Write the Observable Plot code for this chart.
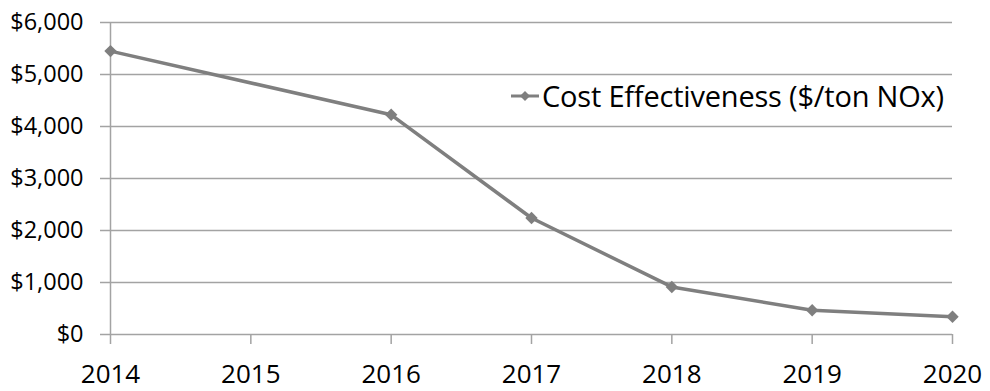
<!DOCTYPE html>
<html>
<head>
<meta charset="utf-8">
<script src="https://cdn.jsdelivr.net/npm/d3@7"></script>
<script src="https://cdn.jsdelivr.net/npm/@observablehq/plot@0.6"></script>
<style>
  html, body { margin: 0; padding: 0; background: #fff; }
  #wrap { position: relative; width: 990px; height: 391px; font-family: "Open Sans", sans-serif; }
  #legend { position: absolute; left: 510px; top: 76px; display: flex; align-items: center; font-size: 29px; color: #000; white-space: nowrap; letter-spacing: -0.2px; }
  #legend svg { margin-right: 2px; }
</style>
</head>
<body>
<div id="wrap"></div>
<script>
const years = [2014, 2016, 2017, 2018, 2019, 2020];
const costs = [5450, 4225, 2240, 915, 465, 340];
const xTicks = [2014, 2015, 2016, 2017, 2018, 2019, 2020];
const yTicks = [0, 1000, 2000, 3000, 4000, 5000, 6000];
const seriesName = "Cost Effectiveness ($/ton NOx)";

const data = years.map((y, i) => ({year: y, cost: costs[i]}));
const gridColor = "#a3a3a3";
const lineColor = "#7f7f7f";

const chart = Plot.plot({
  width: 990,
  height: 391,
  marginLeft: 110,
  marginRight: 38,
  marginTop: 22,
  marginBottom: 57,
  style: {fontFamily: "'Open Sans', sans-serif", color: "#000", background: "#fff"},
  x: {domain: [2014, 2020]},
  y: {domain: [0, 6000]},
  marks: [
    Plot.ruleY(yTicks, {stroke: gridColor, strokeWidth: 1.5}),
    Plot.ruleX([2014], {stroke: gridColor, strokeWidth: 1.5}),
    Plot.axisY({ticks: yTicks, tickFormat: d3.format("$,"), tickSize: 10, tickPadding: 17, fontSize: 23.5, stroke: gridColor, strokeWidth: 1.5, strokeOpacity: 1, label: null}),
    Plot.axisX({ticks: xTicks, tickFormat: d => String(d), tickSize: 10, tickPadding: 20, fontSize: 26, stroke: gridColor, strokeWidth: 1.5, strokeOpacity: 1, label: null}),
    Plot.line(data, {x: "year", y: "cost", stroke: lineColor, strokeWidth: 3.5}),
    Plot.dot(data, {x: "year", y: "cost", symbol: "diamond2", r: 5.6, fill: lineColor, stroke: "none"})
  ]
});

const wrap = document.getElementById("wrap");
wrap.appendChild(chart);
const legend = document.createElement("div");
legend.id = "legend";
legend.innerHTML = `<svg width="30" height="14" viewBox="0 0 30 14"><line x1="1" y1="7" x2="29" y2="7" stroke="${lineColor}" stroke-width="3"/><path d="M15 2 L20 7 L15 12 L10 7 Z" fill="${lineColor}"/></svg><span></span>`;
legend.querySelector("span").textContent = seriesName;
wrap.appendChild(legend);
</script>
</body>
</html>
